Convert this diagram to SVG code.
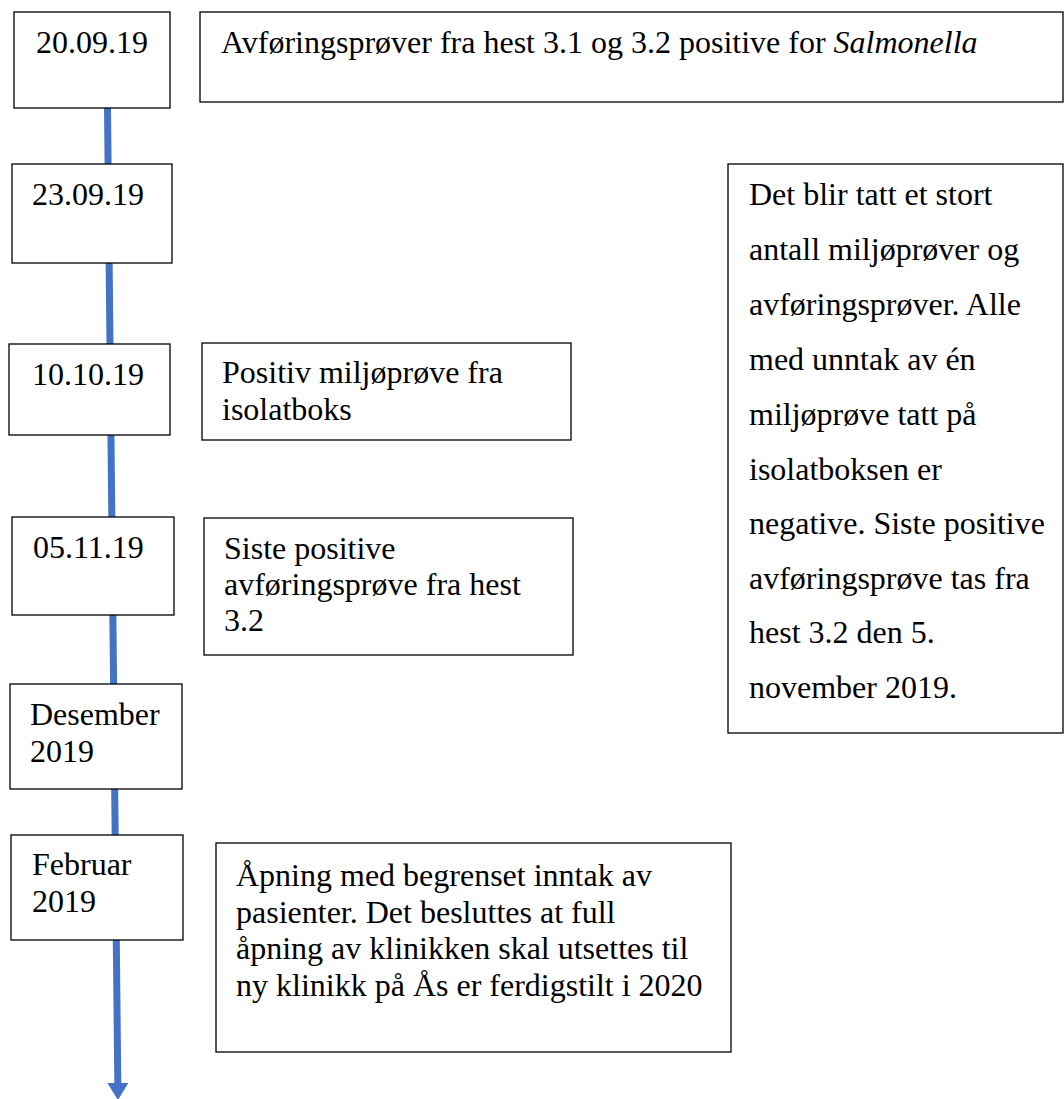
<svg xmlns="http://www.w3.org/2000/svg" width="1064" height="1099" viewBox="0 0 1064 1099">
  <style>
    .box { fill: #ffffff; stroke: #000000; stroke-width: 1.3; }
    .t { font-family: "Liberation Serif", "Times New Roman", serif; font-size: 32px; fill: #000000; }
    .it { font-style: italic; }
    .conn { fill: none; stroke: #4472C4; stroke-width: 7; }
  </style>
  <defs>
    <marker id="arrow" viewBox="0 0 17 21" refX="0" refY="10.5" markerWidth="17" markerHeight="21" markerUnits="userSpaceOnUse" orient="auto">
      <path d="M0,0 L17,10.5 L0,21 Z" fill="#4472C4"/>
    </marker>
  </defs>
  <rect width="1064" height="1099" fill="#ffffff"/>

  <g id="connectors">
    <line class="conn" x1="107.5" y1="108" x2="117.8" y2="1083" marker-end="url(#arrow)"/>
  </g>

  <g id="node-20-09-19">
    <rect class="box" x="14" y="12" width="156" height="96"/>
    <text class="t" x="36" y="53">20.09.19</text>
  </g>
  <g id="node-salmonella">
    <rect class="box" x="200" y="12" width="863" height="90"/>
    <text class="t" x="221" y="53">Avføringsprøver fra hest 3.1 og 3.2 positive for <tspan class="it">Salmonella</tspan></text>
  </g>
  <g id="node-23-09-19">
    <rect class="box" x="12" y="164" width="160" height="99"/>
    <text class="t" x="32" y="205">23.09.19</text>
  </g>
  <g id="node-10-10-19">
    <rect class="box" x="9" y="344" width="161" height="91"/>
    <text class="t" x="32" y="385">10.10.19</text>
  </g>
  <g id="node-positiv">
    <rect class="box" x="202" y="343" width="369" height="97"/>
    <text class="t" x="222" y="383">Positiv miljøprøve fra</text>
    <text class="t" x="222" y="420">isolatboks</text>
  </g>
  <g id="node-05-11-19">
    <rect class="box" x="12" y="517" width="162" height="98"/>
    <text class="t" x="33" y="558">05.11.19</text>
  </g>
  <g id="node-siste">
    <rect class="box" x="204" y="518" width="369" height="137"/>
    <text class="t" x="224" y="559">Siste positive</text>
    <text class="t" x="224" y="595">avføringsprøve fra hest</text>
    <text class="t" x="224" y="631">3.2</text>
  </g>
  <g id="node-desember">
    <rect class="box" x="10" y="684" width="172" height="105"/>
    <text class="t" x="30" y="725">Desember</text>
    <text class="t" x="30" y="762">2019</text>
  </g>
  <g id="node-februar">
    <rect class="box" x="11" y="835" width="172" height="105"/>
    <text class="t" x="32" y="875">Februar</text>
    <text class="t" x="32" y="912">2019</text>
  </g>
  <g id="node-apning">
    <rect class="box" x="216" y="843" width="515" height="209"/>
    <text class="t" x="236" y="886">Åpning med begrenset inntak av</text>
    <text class="t" x="236" y="922.5">pasienter. Det besluttes at full</text>
    <text class="t" x="236" y="959">åpning av klinikken skal utsettes til</text>
    <text class="t" x="236" y="995.5">ny klinikk på Ås er ferdigstilt i 2020</text>
  </g>
  <g id="node-summary">
    <rect class="box" x="728" y="164" width="335" height="569"/>
    <text class="t" x="749" y="205">Det blir tatt et stort</text>
    <text class="t" x="749" y="260">antall miljøprøver og</text>
    <text class="t" x="749" y="315">avføringsprøver. Alle</text>
    <text class="t" x="749" y="370">med unntak av én</text>
    <text class="t" x="749" y="425">miljøprøve tatt på</text>
    <text class="t" x="749" y="480">isolatboksen er</text>
    <text class="t" x="749" y="534">negative. Siste positive</text>
    <text class="t" x="749" y="589">avføringsprøve tas fra</text>
    <text class="t" x="749" y="643">hest 3.2 den 5.</text>
    <text class="t" x="749" y="698">november 2019.</text>
  </g>
</svg>
